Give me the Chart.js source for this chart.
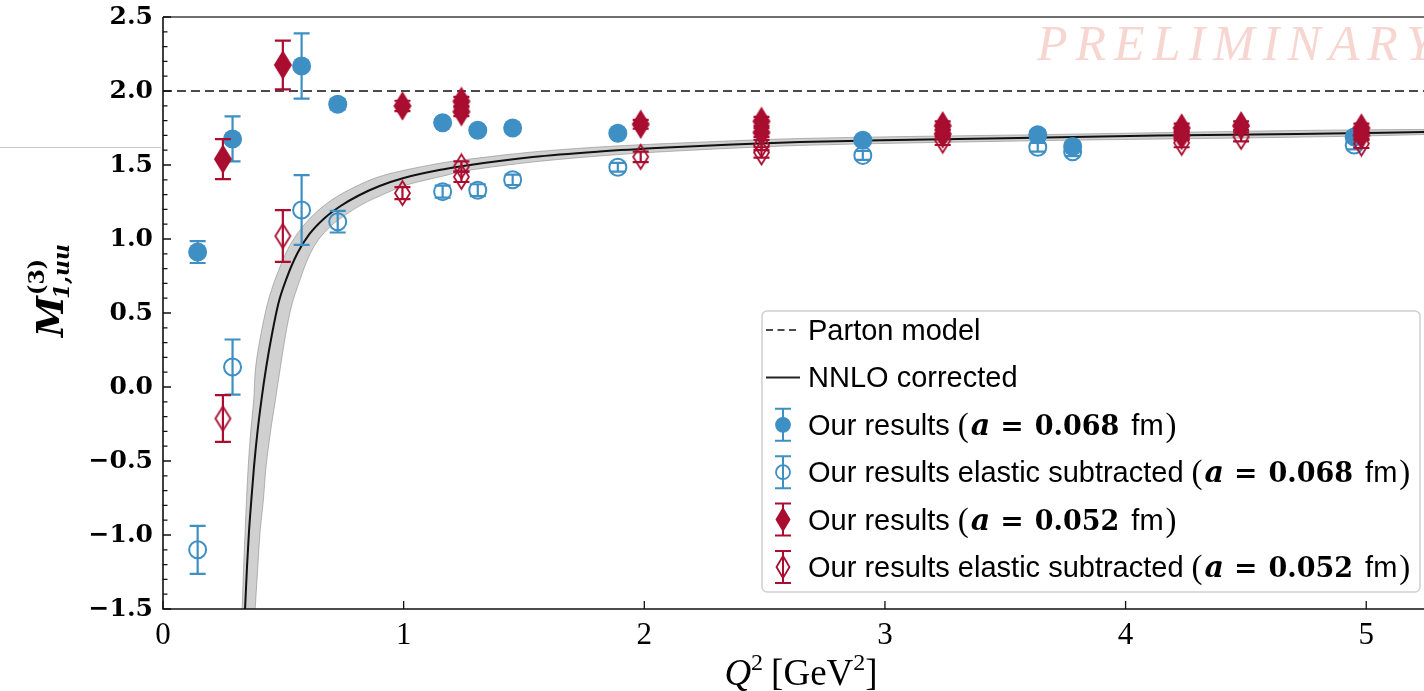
<!DOCTYPE html>
<html>
<head>
<meta charset="utf-8">
<title>M1,uu(3) moment vs Q2</title>
<script src="https://cdn.jsdelivr.net/npm/chart.js@4.4.1/dist/chart.umd.min.js"></script>
<style>
    html, body { margin: 0; padding: 0; background: #fff; }
    #wrap { width: 1424px; height: 691px; position: relative; }
</style>
</head>
<body>
<div id="wrap"><canvas id="momentChart"></canvas></div>
<script>
// a = 0.068 fm ensemble
const q2A = [0.144, 0.289, 0.576, 0.726, 1.162, 1.308, 1.453, 1.890, 2.908, 3.635, 3.780, 4.950];
const mA = [0.912, 1.676, 2.169, 1.910, 1.785, 1.735, 1.750, 1.715, 1.668, 1.705, 1.625, 1.690];
const mAErr = [0.074, 0.152, 0.220, 0.035, 0.020, 0.020, 0.020, 0.020, 0.020, 0.030, 0.030, 0.030];
const mASub = [-1.100, 0.135, 1.196, 1.117, 1.320, 1.330, 1.400, 1.485, 1.565, 1.620, 1.590, 1.635];
const mASubErr = [0.162, 0.186, 0.236, 0.073, 0.040, 0.040, 0.035, 0.030, 0.030, 0.030, 0.030, 0.030];

// a = 0.052 fm ensemble
const q2B = [0.249, 0.498, 0.995, 1.240, 1.240, 1.985, 2.487, 2.487, 3.240, 3.240, 4.233, 4.233, 4.480, 4.980, 4.980];
const mB = [1.540, 2.176, 1.899, 1.930, 1.860, 1.775, 1.795, 1.720, 1.765, 1.710, 1.750, 1.700, 1.765, 1.750, 1.700];
const mBErr = [0.135, 0.165, 0.035, 0.030, 0.030, 0.030, 0.030, 0.030, 0.030, 0.030, 0.030, 0.030, 0.030, 0.030, 0.030];
const q2BSub = [0.249, 0.498, 0.995, 1.240, 1.240, 1.985, 2.487, 2.487, 3.240, 4.233, 4.480, 4.980];
const mBSub = [-0.213, 1.020, 1.310, 1.490, 1.420, 1.555, 1.635, 1.585, 1.665, 1.650, 1.690, 1.645];
const mBSubErr = [0.158, 0.175, 0.040, 0.035, 0.035, 0.035, 0.035, 0.035, 0.030, 0.030, 0.030, 0.030];

// parton model and NNLO corrected curve
const partonQ2 = [0, 5.24];
const partonM = [2, 2];
const nnloQ2 = [0.341, 0.349, 0.357, 0.367, 0.378, 0.392, 0.409, 0.429, 0.453, 0.480, 0.514, 0.559, 0.609, 0.672,
    0.738, 0.813, 0.900, 1.000, 1.162, 1.262, 1.536, 1.815, 2.093, 2.367, 2.646, 2.924, 3.556, 4.134, 4.712, 5.240];
const nnloM = [-1.500, -1.216, -0.986, -0.764, -0.541, -0.311, -0.088, 0.135, 0.358, 0.568, 0.736, 0.905, 1.034, 1.142,
    1.223, 1.294, 1.358, 1.412, 1.470, 1.497, 1.554, 1.591, 1.618, 1.639, 1.655, 1.665, 1.682, 1.699, 1.709, 1.723];
// uncertainty band edges (upper/left edge and lower/right edge)
const bandHiQ2 = [0.329, 0.335, 0.341, 0.347, 0.354, 0.364, 0.377, 0.385, 0.407, 0.435, 0.468, 0.521, 0.576, 0.644,
    0.715, 0.796, 0.887, 0.992, 1.158, 1.258, 1.536, 1.815, 2.093, 2.646, 3.556, 5.240];
const bandHiM = [-1.500, -1.216, -0.986, -0.764, -0.541, -0.311, -0.088, 0.135, 0.358, 0.568, 0.736, 0.939, 1.075, 1.192,
    1.279, 1.351, 1.415, 1.461, 1.514, 1.537, 1.588, 1.622, 1.645, 1.679, 1.703, 1.740];
const bandLoQ2 = [0.383, 0.394, 0.403, 0.417, 0.428, 0.446, 0.467, 0.488, 0.510, 0.535, 0.566, 0.603, 0.645, 0.700,
    0.761, 0.830, 0.914, 1.008, 1.166, 1.266, 1.536, 1.815, 2.093, 2.646, 3.556, 5.240];
const bandLoM = [-1.500, -1.216, -0.986, -0.764, -0.541, -0.311, -0.088, 0.135, 0.358, 0.554, 0.709, 0.871, 0.993, 1.092,
    1.166, 1.236, 1.300, 1.363, 1.426, 1.463, 1.520, 1.561, 1.591, 1.632, 1.662, 1.706];

const xTicks = [0, 1, 2, 3, 4, 5];
const yTicks = [-1.5, -1.0, -0.5, 0.0, 0.5, 1.0, 1.5, 2.0, 2.5];

const legendLabels = [
    'Parton model',
    'NNLO corrected',
    ['Our results ', '0.068'],
    ['Our results elastic subtracted ', '0.068'],
    ['Our results ', '0.052'],
    ['Our results elastic subtracted ', '0.052']
];

const BLUE = '#3d8fc4';
const RED = '#a90d30';

const toPoints = (xs, ys) => xs.map((x, i) => ({ x: x, y: ys[i] }));

// thin diamond marker as a small canvas, used as a point style
function diamond(color, filled, w, h) {
    const c = document.createElement('canvas');
    c.width = w + 4;
    c.height = h + 4;
    const g = c.getContext('2d');
    g.beginPath();
    g.moveTo(c.width / 2, 2);
    g.lineTo(c.width - 2, c.height / 2);
    g.lineTo(c.width / 2, c.height - 2);
    g.lineTo(2, c.height / 2);
    g.closePath();
    if (filled) {
        g.fillStyle = color;
        g.fill();
    }
    g.strokeStyle = color;
    g.lineWidth = 1.8;
    g.stroke();
    return c;
}

// vertical error bars with caps, drawn just before each dataset's markers
const errorBars = {
    id: 'errorBars',
    beforeDatasetDraw(chart, args) {
        const ds = chart.data.datasets[args.index];
        if (!ds.errors) return;
        const { ctx, chartArea, scales } = chart;
        ctx.save();
        ctx.beginPath();
        ctx.rect(chartArea.left, chartArea.top, chartArea.width, chartArea.height);
        ctx.clip();
        ctx.strokeStyle = ds.borderColor;
        ctx.lineWidth = 2.2;
        ds.data.forEach((p, i) => {
            const px = scales.x.getPixelForValue(p.x);
            const top = scales.y.getPixelForValue(p.y + ds.errors[i]);
            const bot = scales.y.getPixelForValue(p.y - ds.errors[i]);
            ctx.beginPath();
            ctx.moveTo(px, top); ctx.lineTo(px, bot);
            ctx.moveTo(px - 8, top); ctx.lineTo(px + 8, top);
            ctx.moveTo(px - 8, bot); ctx.lineTo(px + 8, bot);
            ctx.stroke();
        });
        ctx.restore();
    }
};

function drawRuns(ctx, runs, x, y) {
    runs.forEach(r => {
        ctx.font = r.font;
        x += r.pre || 0;
        ctx.fillText(r.text, x, y + (r.dy || 0));
        x += ctx.measureText(r.text).width + (r.post || 0);
    });
    return x;
}

function runsWidth(ctx, runs) {
    let w = 0;
    runs.forEach(r => {
        ctx.font = r.font;
        w += ctx.measureText(r.text).width + (r.pre || 0) + (r.post || 0);
    });
    return w;
}

// watermark behind the data
const watermark = {
    id: 'watermark',
    beforeDatasetsDraw(chart) {
        const ctx = chart.ctx;
        ctx.save();
        ctx.font = 'italic 50px "Liberation Serif"';
        ctx.fillStyle = '#f7d6d1';
        ctx.textBaseline = 'alphabetic';
        let x = 1037;
        for (const ch of 'PRELIMINARY') {
            ctx.fillText(ch, x, 60);
            x += ctx.measureText(ch).width + 8;
        }
        ctx.restore();
    }
};

// spines, inward ticks, axis titles and legend
const frame = {
    id: 'frame',
    afterDatasetsDraw(chart) {
        const { ctx, chartArea: a, scales } = chart;
        ctx.save();
        // stray rule in the left margin
        ctx.strokeStyle = '#c8c8c8';
        ctx.lineWidth = 1;
        ctx.beginPath(); ctx.moveTo(0, 147.5); ctx.lineTo(a.left - 2, 147.5); ctx.stroke();

        ctx.strokeStyle = '#6e6e6e';
        ctx.lineWidth = 2.2;
        ctx.beginPath(); ctx.moveTo(a.left, a.top); ctx.lineTo(a.right, a.top); ctx.stroke();
        ctx.strokeStyle = '#111';
        ctx.lineWidth = 1.6;
        ctx.beginPath();
        ctx.moveTo(a.left, a.top); ctx.lineTo(a.left, a.bottom); ctx.lineTo(a.right, a.bottom);
        ctx.stroke();

        ctx.lineWidth = 1.3;
        ctx.beginPath();
        for (let k = -15; k <= 25; k++) {
            const py = scales.y.getPixelForValue(k / 10);
            const len = k % 5 === 0 ? 8 : 4.5;
            ctx.moveTo(a.left, py); ctx.lineTo(a.left + len, py);
        }
        xTicks.forEach(v => {
            const px = scales.x.getPixelForValue(v);
            ctx.moveTo(px, a.bottom); ctx.lineTo(px, a.bottom - 8);
        });
        ctx.stroke();

        // y title: M^(3)_{1,uu}
        ctx.fillStyle = '#000';
        ctx.textBaseline = 'alphabetic';
        ctx.save();
        ctx.translate(63, 289);
        ctx.rotate(-Math.PI / 2);
        const mFont = 'italic bold 37px "DejaVu Serif"';
        const supFont = 'bold 22px "DejaVu Serif"';
        const subFont = 'italic bold 22px "DejaVu Serif"';
        ctx.font = mFont;
        const wM = ctx.measureText('M').width;
        ctx.font = supFont;
        const wSup = ctx.measureText('(3)').width;
        ctx.font = subFont;
        const wSub = ctx.measureText('1,uu').width;
        const x0 = -(wM + Math.max(wSup, wSub)) / 2;
        ctx.font = mFont;
        ctx.fillText('M', x0, 0);
        ctx.font = supFont;
        ctx.fillText('(3)', x0 + wM + 1, -19);
        ctx.font = subFont;
        ctx.fillText('1,uu', x0 + wM - 3, 6);
        ctx.restore();

        // x title: Q^2 [GeV^2]
        const xRuns = [
            { text: 'Q', font: 'italic 37px "Liberation Serif"' },
            { text: '2', font: '24px "Liberation Serif"', dy: -15, post: 8 },
            { text: '[GeV', font: '37px "Liberation Serif"' },
            { text: '2', font: '24px "Liberation Serif"', dy: -15 },
            { text: ']', font: '37px "Liberation Serif"' }
        ];
        drawRuns(ctx, xRuns, 801 - runsWidth(ctx, xRuns) / 2, 685);
        ctx.restore();
    },
    afterDraw(chart) {
        const ctx = chart.ctx;
        const bx = 762, by = 311, bw = 658, bh = 281;
        ctx.save();
        ctx.beginPath();
        ctx.roundRect(bx, by, bw, bh, 5);
        ctx.fillStyle = 'rgba(255,255,255,0.85)';
        ctx.fill();
        ctx.strokeStyle = '#d0d0d0';
        ctx.lineWidth = 1.5;
        ctx.stroke();

        const sans = '29px "Liberation Sans"';
        const styles = [
            null, null,
            { color: BLUE, filled: true, shape: 'circle' },
            { color: BLUE, filled: false, shape: 'circle' },
            { color: RED, filled: true, shape: 'diamond' },
            { color: RED, filled: false, shape: 'diamond' }
        ];
        legendLabels.forEach((label, i) => {
            const cy = 330 + i * 47.4;
            const hx = 783;
            ctx.lineWidth = 2;
            if (i === 0) {
                ctx.strokeStyle = '#4a4a4a';
                ctx.setLineDash([7, 4.5]);
                ctx.beginPath(); ctx.moveTo(766, cy); ctx.lineTo(800, cy); ctx.stroke();
                ctx.setLineDash([]);
            } else if (i === 1) {
                ctx.strokeStyle = '#222';
                ctx.beginPath(); ctx.moveTo(766, cy); ctx.lineTo(800, cy); ctx.stroke();
            } else {
                const s = styles[i];
                ctx.strokeStyle = s.color;
                ctx.fillStyle = s.color;
                ctx.beginPath();
                ctx.moveTo(hx, cy - 16); ctx.lineTo(hx, cy + 16);
                ctx.moveTo(hx - 8, cy - 16); ctx.lineTo(hx + 8, cy - 16);
                ctx.moveTo(hx - 8, cy + 16); ctx.lineTo(hx + 8, cy + 16);
                ctx.stroke();
                ctx.beginPath();
                if (s.shape === 'circle') {
                    ctx.arc(hx, cy, 7, 0, Math.PI * 2);
                } else {
                    ctx.moveTo(hx, cy - 11); ctx.lineTo(hx + 6.5, cy);
                    ctx.lineTo(hx, cy + 11); ctx.lineTo(hx - 6.5, cy); ctx.closePath();
                }
                if (s.filled) ctx.fill();
                ctx.lineWidth = 1.8;
                ctx.stroke();
            }
            ctx.fillStyle = '#000';
            ctx.textBaseline = 'alphabetic';
            const base = cy + 10;
            if (typeof label === 'string') {
                ctx.font = sans;
                ctx.fillText(label, 808, base);
            } else {
                drawRuns(ctx, [
                    { text: label[0], font: sans },
                    { text: '(', font: '33px "Liberation Serif"', dy: 1, post: 2 },
                    { text: 'a', font: 'italic bold 30px "DejaVu Serif"', post: 10 },
                    { text: '=', font: 'bold 28px "DejaVu Serif"', post: 11 },
                    { text: label[1], font: 'bold 27px "DejaVu Serif"', post: 4 },
                    { text: ' fm', font: sans, post: 2 },
                    { text: ')', font: '33px "Liberation Serif"', dy: 1 }
                ], 808, base);
            }
        });
        ctx.restore();
    }
};

const ctx = document.getElementById('momentChart');

new Chart(ctx, {
    type: 'scatter',
    data: {
        datasets: [
            {
                label: 'Parton model',
                data: toPoints(partonQ2, partonM),
                showLine: true,
                borderColor: '#4a4a4a',
                borderWidth: 2.2,
                borderDash: [9, 5],
                pointRadius: 0,
                order: 6
            },
            {
                label: 'NNLO band',
                data: toPoints(bandHiQ2, bandHiM).concat(toPoints(bandLoQ2, bandLoM).reverse()),
                showLine: true,
                fill: 'shape',
                backgroundColor: 'rgba(150,150,150,0.45)',
                borderColor: 'rgba(130,130,130,0.55)',
                borderWidth: 1,
                tension: 0.3,
                pointRadius: 0,
                order: 5
            },
            {
                label: 'NNLO corrected',
                data: toPoints(nnloQ2, nnloM),
                showLine: true,
                borderColor: '#111',
                borderWidth: 2,
                cubicInterpolationMode: 'monotone',
                pointRadius: 0,
                order: 4
            },
            {
                label: 'Our results elastic subtracted (a = 0.068 fm)',
                data: toPoints(q2A, mASub),
                errors: mASubErr,
                borderColor: BLUE,
                backgroundColor: 'rgba(0,0,0,0)',
                pointBorderWidth: 2,
                pointRadius: 8.5,
                order: 3
            },
            {
                label: 'Our results (a = 0.068 fm)',
                data: toPoints(q2A, mA),
                errors: mAErr,
                borderColor: BLUE,
                backgroundColor: BLUE,
                pointBorderWidth: 0,
                pointRadius: 9.5,
                order: 2
            },
            {
                label: 'Our results elastic subtracted (a = 0.052 fm)',
                data: toPoints(q2BSub, mBSub),
                errors: mBSubErr,
                borderColor: RED,
                pointStyle: diamond(RED, false, 15, 24),
                order: 1
            },
            {
                label: 'Our results (a = 0.052 fm)',
                data: toPoints(q2B, mB),
                errors: mBErr,
                borderColor: RED,
                pointStyle: diamond(RED, true, 16, 26),
                order: 0
            }
        ]
    },
    options: {
        responsive: true,
        maintainAspectRatio: false,
        animation: false,
        events: [],
        layout: { autoPadding: false, padding: { top: 17, right: 0, left: 0, bottom: 0 } },
        scales: {
            x: {
                type: 'linear',
                min: 0,
                max: 5.24,
                grid: { display: false, drawTicks: false },
                border: { display: false },
                afterBuildTicks: s => { s.ticks = xTicks.map(v => ({ value: v })); },
                afterFit: s => { s.height = 82; s.paddingLeft = 0; s.paddingRight = 0; },
                ticks: {
                    color: '#000',
                    padding: 8,
                    maxRotation: 0,
                    font: { family: '"Liberation Serif"', size: 31 }
                }
            },
            y: {
                min: -1.5,
                max: 2.5,
                grid: { display: false, drawTicks: false },
                border: { display: false },
                afterBuildTicks: s => { s.ticks = yTicks.map(v => ({ value: v })); },
                afterFit: s => { s.width = 163; s.paddingTop = 0; s.paddingBottom = 0; },
                ticks: {
                    color: '#000',
                    padding: 10,
                    font: { family: '"DejaVu Serif"', size: 25, weight: 'bold' },
                    callback: v => (v < 0 ? '\u2212' : '') + Math.abs(v).toFixed(1)
                }
            }
        },
        plugins: {
            legend: { display: false },
            tooltip: { enabled: false }
        }
    },
    plugins: [watermark, errorBars, frame]
});
</script>
</body>
</html>
